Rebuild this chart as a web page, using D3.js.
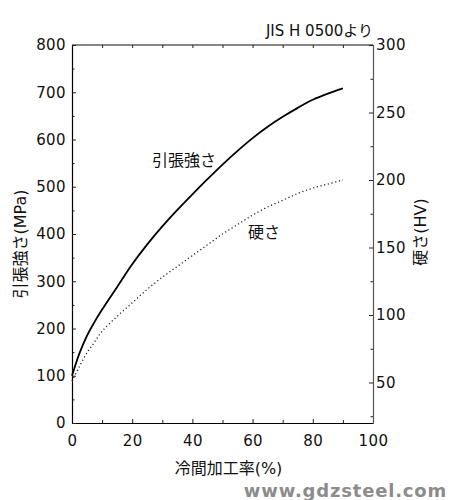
<!DOCTYPE html>
<html>
<head>
<meta charset="utf-8">
<script src="https://cdn.jsdelivr.net/npm/d3@7"></script>
<style>
  body { margin: 0; background: #fff; }
  text { font-family: "DejaVu Sans", "Noto Sans CJK JP", sans-serif; fill: #111; }
  .tick text { font-size: 15px; letter-spacing: 0.4px; }
</style>
</head>
<body>
<div id="chart"></div>
<script>
// cold work ratio (%) and the two curves
var coldWork = [0, 2.5, 5, 7.5, 10, 15, 20, 25, 30, 35, 40, 45, 50, 55, 60, 65, 70, 75, 80, 85, 90];
var tensile  = [100, 148, 185, 214, 240, 288, 336, 378, 416, 451, 484, 516, 547, 576, 603, 627, 648, 667, 684, 697, 708];
var hardness = [51, 62, 72, 80, 88, 99, 109, 119, 128, 136, 144, 152, 160, 167, 174, 180, 185, 190, 194, 197, 200];

var xTicks = [0, 20, 40, 60, 80, 100];
var xMinor = [10, 30, 50, 70, 90];
var leftTicks = [0, 100, 200, 300, 400, 500, 600, 700, 800];
var leftMinor = [50, 150, 250, 350, 450, 550, 650, 750];
var rightTicks = [50, 100, 150, 200, 250, 300];
var rightMinor = [25, 75, 125, 175, 225, 275];

var width = 449, height = 500;
var margin = {top: 45, right: 76, bottom: 77, left: 72};

var svg = d3.select("#chart")
    .append("svg")
    .attr("width", width)
    .attr("height", height);

var x = d3.scaleLinear().domain([0, 100]).range([margin.left, width - margin.right]);
var yL = d3.scaleLinear().domain([0, 800]).range([height - margin.bottom, margin.top]);
var yR = d3.scaleLinear().domain([20, 300]).range([height - margin.bottom, margin.top]);

var bottomY = height - margin.bottom, rightX = width - margin.right;

// frame top line
svg.append("line")
    .attr("x1", x(0)).attr("x2", x(100))
    .attr("y1", margin.top).attr("y2", margin.top)
    .style("stroke", "#111").style("stroke-width", 1.2);

// bottom axis
svg.append("g")
    .attr("transform", "translate(0," + bottomY + ")")
    .call(d3.axisBottom(x).tickValues(xMinor).tickSize(-3).tickFormat(""))
    .call(g => g.select(".domain").remove());
svg.append("g")
    .attr("transform", "translate(0," + bottomY + ")")
    .call(d3.axisBottom(x).tickValues(xTicks).tickSize(-4).tickSizeOuter(0).tickPadding(12));

// top ticks
svg.append("g")
    .attr("transform", "translate(0," + margin.top + ")")
    .call(d3.axisTop(x).tickValues(xMinor.concat(xTicks)).tickSize(-3).tickFormat(""))
    .call(g => g.select(".domain").remove());

// left axis
svg.append("g")
    .attr("transform", "translate(" + margin.left + ",0)")
    .call(d3.axisLeft(yL).tickValues(leftMinor).tickSize(-2.5).tickFormat(""))
    .call(g => g.select(".domain").remove());
svg.append("g")
    .attr("transform", "translate(" + margin.left + ",0)")
    .call(d3.axisLeft(yL).tickValues(leftTicks).tickSize(-4).tickSizeOuter(0).tickPadding(6));

// right axis
svg.append("g")
    .attr("transform", "translate(" + rightX + ",0)")
    .call(d3.axisRight(yR).tickValues(rightMinor).tickSize(-2.5).tickFormat(""))
    .call(g => g.select(".domain").remove());
var rAxis = svg.append("g")
    .attr("transform", "translate(" + rightX + ",0)")
    .call(d3.axisRight(yR).tickValues(rightTicks).tickSize(-4).tickSizeOuter(0).tickPadding(3));
rAxis.select(".domain").style("stroke", "#555");

svg.selectAll(".domain").style("stroke-width", 1.2);
svg.selectAll(".tick line").style("stroke", "#222");
svg.selectAll(".tick text").style("fill", "#111");

// curves
var tensileLine = d3.line()
    .x((d, i) => x(coldWork[i]))
    .y(d => yL(d))
    .curve(d3.curveCatmullRom.alpha(0.5));
var hardLine = d3.line()
    .x((d, i) => x(coldWork[i]))
    .y(d => yR(d))
    .curve(d3.curveCatmullRom.alpha(0.5));

svg.append("path")
    .datum(tensile)
    .attr("d", tensileLine)
    .style("fill", "none")
    .style("stroke", "#000")
    .style("stroke-width", 1.8);

svg.append("path")
    .datum(hardness)
    .attr("d", hardLine)
    .style("fill", "none")
    .style("stroke", "#222")
    .style("stroke-width", 1.3)
    .style("stroke-dasharray", "1.2,2.6");

// curve labels
svg.append("text")
    .attr("x", x(26.6)).attr("y", yL(544))
    .style("font-size", "16px")
    .text("引張強さ");
svg.append("text")
    .attr("x", x(58.5)).attr("y", yR(157))
    .style("font-size", "16px")
    .text("硬さ");

// titles
svg.append("text")
    .attr("x", rightX).attr("y", 36)
    .attr("text-anchor", "end")
    .style("font-size", "15px")
    .text("JIS H 0500より");

svg.append("text")
    .attr("transform", "translate(" + 26 + "," + 244 + ") rotate(-90)")
    .attr("text-anchor", "middle")
    .style("font-size", "16px")
    .text("引張強さ(MPa)");

svg.append("text")
    .attr("transform", "translate(" + 426 + "," + 232 + ") rotate(-90)")
    .attr("text-anchor", "middle")
    .style("font-size", "16px")
    .text("硬さ(HV)");

svg.append("text")
    .attr("x", (x(0) + x(100)) / 2 + 6).attr("y", 474)
    .attr("text-anchor", "middle")
    .style("font-size", "16px")
    .text("冷間加工率(%)");

// watermark
svg.append("text")
    .attr("x", 447).attr("y", 497)
    .attr("text-anchor", "end")
    .style("font-size", "18px")
    .style("font-weight", "bold")
    .style("letter-spacing", "0.8px")
    .style("fill", "#8c8c8c")
    .text("www.gdzsteel.com");
</script>
</body>
</html>
